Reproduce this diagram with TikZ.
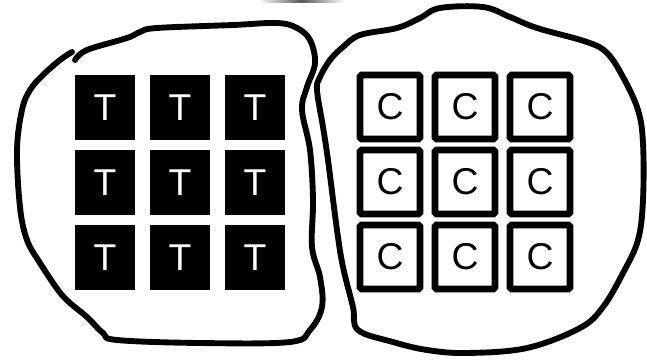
\documentclass[tikz,border=0pt]{standalone}
\usepackage{fontspec}
\setmainfont{Liberation Sans}
\begin{document}
\begin{tikzpicture}[x=0.75pt,y=-0.75pt,
  blob/.style={line width=4.4pt,line cap=round,line join=round},
  tbox/.style={fill=black,text=white,minimum width=45pt,minimum height=48.75pt,inner sep=0pt,font=\fontsize{28}{28}\selectfont},
  cbox/.style={draw=black,line width=5pt,rounded corners=1.2pt,fill=white,text=black,minimum width=45pt,minimum height=48pt,inner sep=0pt,font=\fontsize{28}{28}\selectfont}]
\useasboundingbox (0,0) rectangle (647,361);
\fill[white] (0,0) rectangle (647,361);
% top artifact
\shade[left color=white,right color=white,middle color=black!65] (258,0) rectangle (345,2.5);
% left blob (open)
\draw[blob] plot[smooth,tension=0.6] coordinates {
 (75,60) (87,50) (127,38) (140,32) (157,28) (233,25) (277,23) (297,28) (310,40)
 (315,63) (307,87) (302,110) (310,150) (313,200) (312,247) (320,277) (322,307)
 (310,330) (290,342) (200,343) (117,340) (103,333) (87,317) (70,303) (58,290)
 (40,263) (27,240) (20,207) (17,150) (22,110) (30,90) (43,75) (60,60) (72,52)};
% right blob (closed)
\draw[blob] plot[smooth cycle,tension=0.6] coordinates {
 (343,47) (360,35) (397,28) (420,18) (440,8) (483,7) (510,17) (537,28) (587,42)
 (607,53) (623,77) (638,110) (643,143) (643,200) (638,240) (623,273) (603,307)
 (580,328) (527,348) (467,353) (427,350) (393,342) (358,330) (353,307) (343,267)
 (337,230) (328,160) (323,127) (317,90) (320,77) (330,60)};
% T boxes
\foreach \r/\y in {1/107.5,2/182.5,3/257.5}{
  \foreach \c/\x in {1/105,2/180,3/255}{
    \node[tbox] (t\r\c) at (\x,\y) {T};
  }}
% C boxes
\foreach \r/\y in {1/107,2/182,3/257}{
  \foreach \c/\x in {1/390,2/465,3/540}{
    \node[cbox] (c\r\c) at (\x,\y) {C};
  }}
\end{tikzpicture}
\end{document}
